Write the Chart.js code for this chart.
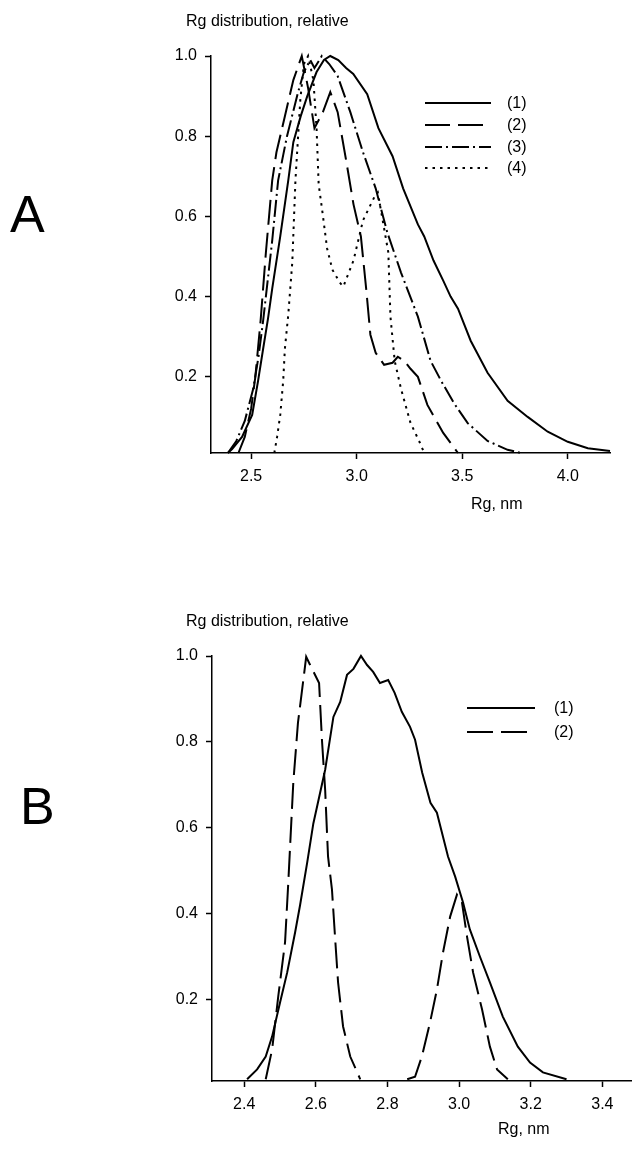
<!DOCTYPE html>
<html><head><meta charset="utf-8">
<script src="https://cdn.jsdelivr.net/npm/chart.js@4.4.0/dist/chart.umd.min.js"></script>
<style>
html,body{margin:0;padding:0;background:#fff;width:635px;height:1155px;overflow:hidden;font-family:"Liberation Sans",Arial,sans-serif;}
canvas{position:absolute;left:0;}
.t{position:absolute;color:#000;white-space:nowrap;line-height:1;}
</style></head><body>
<canvas id="ca" width="635" height="560" style="top:0px"></canvas>
<canvas id="cb" width="635" height="595" style="top:560px"></canvas>
<div class="t" style="left:10px;top:188px;font-size:52px">A</div>
<div class="t" style="left:20px;top:780px;font-size:52px">B</div>
<div class="t" style="left:186px;top:13px;font-size:16px">Rg distribution, relative</div>
<div class="t" style="left:186px;top:613px;font-size:16px">Rg distribution, relative</div>
<div class="t" style="left:471px;top:496px;font-size:16px">Rg, nm</div>
<div class="t" style="left:498px;top:1121px;font-size:16px">Rg, nm</div>
<script>
// ---------- Panel A data ----------
const aLabels = ["(1)", "(2)", "(3)", "(4)"];
const aX1 = [2.39,2.41,2.457,2.505,2.533,2.557,2.58,2.60,2.638,2.676,2.70,2.735,2.766,2.81,2.845,2.875,2.913,2.95,2.984,3.05,3.103,3.17,3.22,3.29,3.32,3.364,3.41,3.445,3.48,3.54,3.62,3.715,3.81,3.905,4.0,4.095,4.2];
const aY1 = [0.01,0.02,0.05,0.105,0.19,0.27,0.345,0.42,0.55,0.69,0.785,0.85,0.90,0.96,0.99,1.0,0.99,0.97,0.955,0.905,0.82,0.75,0.67,0.58,0.55,0.49,0.44,0.40,0.37,0.29,0.21,0.14,0.10,0.063,0.038,0.022,0.015];
const aX2 = [2.44,2.47,2.50,2.52,2.545,2.57,2.60,2.62,2.66,2.70,2.74,2.77,2.80,2.84,2.875,2.91,2.95,2.985,3.02,3.045,3.065,3.09,3.13,3.17,3.195,3.225,3.255,3.29,3.335,3.41,3.48];
const aY2 = [0.01,0.05,0.12,0.2,0.34,0.51,0.69,0.76,0.85,0.94,1.0,0.92,0.82,0.86,0.91,0.86,0.74,0.63,0.55,0.42,0.305,0.26,0.23,0.235,0.25,0.24,0.22,0.2,0.13,0.06,0.01];
const aX3 = [2.39,2.43,2.47,2.51,2.535,2.557,2.60,2.628,2.67,2.72,2.75,2.78,2.80,2.835,2.87,2.91,2.97,3.03,3.09,3.145,3.21,3.29,3.35,3.40,3.46,3.525,3.62,3.715,3.78];
const aY3 = [0.01,0.04,0.09,0.17,0.25,0.34,0.54,0.69,0.80,0.905,0.96,0.99,0.97,1.0,0.98,0.95,0.86,0.76,0.67,0.56,0.46,0.35,0.24,0.19,0.135,0.085,0.04,0.018,0.01];
const aX4 = [2.61,2.623,2.638,2.652,2.66,2.676,2.695,2.71,2.733,2.75,2.77,2.795,2.81,2.82,2.838,2.86,2.885,2.92,2.937,2.985,3.03,3.09,3.10,3.12,3.15,3.16,3.18,3.21,3.255,3.30,3.32];
const aY4 = [0.01,0.05,0.105,0.19,0.27,0.355,0.485,0.69,0.89,0.98,1.0,0.94,0.82,0.68,0.61,0.52,0.467,0.435,0.425,0.49,0.59,0.655,0.66,0.6,0.51,0.35,0.24,0.17,0.085,0.035,0.01];
const aXTicks = [2.5, 3.0, 3.5, 4.0];
const aYTicks = [0.2, 0.4, 0.6, 0.8, 1.0];

// ---------- Panel B data ----------
const bLabels = ["(1)", "(2)"];
const bX1 = [2.408,2.436,2.46,2.478,2.50,2.52,2.542,2.556,2.576,2.593,2.626,2.649,2.668,2.687,2.705,2.726,2.743,2.76,2.779,2.802,2.82,2.84,2.863,2.877,2.897,2.92,2.938,2.969,2.989,3.011,3.03,3.058,3.086,3.122,3.164,3.198,3.234,3.30];
const bY1 = [0.014,0.037,0.067,0.114,0.193,0.263,0.356,0.42,0.52,0.61,0.735,0.858,0.893,0.956,0.97,1.0,0.979,0.963,0.937,0.944,0.914,0.87,0.835,0.805,0.728,0.658,0.635,0.533,0.486,0.426,0.363,0.3,0.24,0.16,0.09,0.053,0.03,0.014];
const bX2 = [2.46,2.478,2.495,2.514,2.523,2.537,2.55,2.565,2.573,2.584,2.609,2.617,2.626,2.634,2.645,2.654,2.662,2.676,2.696,2.724,2.79,2.855,2.877,2.896,2.919,2.938,2.955,2.975,2.994,3.008,3.022,3.039,3.064,3.086,3.106,3.136];
const bY2 = [0.014,0.084,0.207,0.333,0.472,0.705,0.844,0.944,0.998,0.979,0.937,0.805,0.688,0.533,0.456,0.34,0.24,0.137,0.067,0.014,null,0.014,0.02,0.067,0.147,0.223,0.309,0.393,0.444,0.426,0.347,0.263,0.177,0.09,0.037,0.014];
const bXTicks = [2.4, 2.6, 2.8, 3.0, 3.2, 3.4];
const bYTicks = [0.2, 0.4, 0.6, 0.8, 1.0];

const FONT = '"Liberation Sans", Arial, sans-serif';
const FS = 16;
const pts = (xs, ys) => xs.map((x, i) => ({x: x, y: ys[i]}));

const fixedLegend = {
  id: 'fixedLegend',
  afterDraw(chart, args, opts) {
    const ctx = chart.ctx;
    chart.data.datasets.forEach((ds, i) => {
      const y = opts.rows[i];
      ctx.save();
      ctx.strokeStyle = '#000';
      ctx.lineWidth = ds.borderWidth;
      ctx.setLineDash(ds.borderDash || []);
      ctx.beginPath(); ctx.moveTo(opts.x1, y); ctx.lineTo(opts.x2, y); ctx.stroke();
      ctx.setLineDash([]);
      ctx.fillStyle = '#000';
      ctx.font = FS + 'px ' + FONT;
      ctx.textBaseline = 'middle';
      ctx.fillText(ds.label, opts.tx, y + 1);
      ctx.restore();
    });
  }
};

function ds(label, xs, ys, dash) {
  return {label: label, data: pts(xs, ys), borderColor: '#000', borderWidth: 2,
    borderDash: dash, pointRadius: 0, fill: false, tension: 0, clip: false, spanGaps: false};
}

function axes(xmin, xmax, xt, yt, yW, xH) {
  const common = {
    border: {display: true, color: '#000', width: 1.5},
    grid: {drawOnChartArea: false, drawTicks: true, tickLength: 6, tickColor: '#000', tickWidth: 1.5, color: '#000'},
  };
  return {
    x: Object.assign({}, common, {type: 'linear', min: xmin, max: xmax,
      afterBuildTicks: s => { s.ticks = xt.map(v => ({value: v})); },
      afterFit: s => { s.height = xH; },
      ticks: {color: '#000', font: {family: FONT, size: FS}, padding: 8, maxRotation: 0,
        callback: v => v.toFixed(1)}}),
    y: Object.assign({}, common, {type: 'linear', min: 0.01, max: 1.0,
      afterBuildTicks: s => { s.ticks = yt.map(v => ({value: v})); },
      afterFit: s => { s.width = yW; },
      ticks: {color: '#000', font: {family: FONT, size: FS}, padding: 8,
        callback: v => v.toFixed(1)}})
  };
}

new Chart(document.getElementById('ca'), {
  type: 'line',
  data: {datasets: [
    ds(aLabels[0], aX1, aY1, []),
    ds(aLabels[1], aX2, aY2, [25, 8]),
    ds(aLabels[2], aX3, aY3, [17, 4, 2, 4]),
    ds(aLabels[3], aX4, aY4, [2.5, 5])
  ]},
  options: {
    responsive: false, animation: false, devicePixelRatio: 1,
    layout: {padding: {left: 0, top: 56, right: 25, bottom: 0}},
    scales: axes(2.31, 4.2, aXTicks, aYTicks, 211, 107),
    plugins: {legend: {display: false}, tooltip: {enabled: false},
      fixedLegend: {x1: 425, x2: 491, tx: 507, rows: [103, 125, 147, 168]}}
  },
  plugins: [fixedLegend]
});

new Chart(document.getElementById('cb'), {
  type: 'line',
  data: {datasets: [
    ds(bLabels[0], bX1, bY1, []),
    ds(bLabels[1], bX2, bY2, [26, 8])
  ]},
  options: {
    responsive: false, animation: false, devicePixelRatio: 1,
    layout: {padding: {left: 0, top: 96, right: 4, bottom: 0}},
    scales: axes(2.31, 3.48, bXTicks, bYTicks, 212, 74),
    plugins: {legend: {display: false}, tooltip: {enabled: false},
      fixedLegend: {x1: 467, x2: 535, tx: 554, rows: [148, 172]}}
  },
  plugins: [fixedLegend]
});
</script>
</body></html>
